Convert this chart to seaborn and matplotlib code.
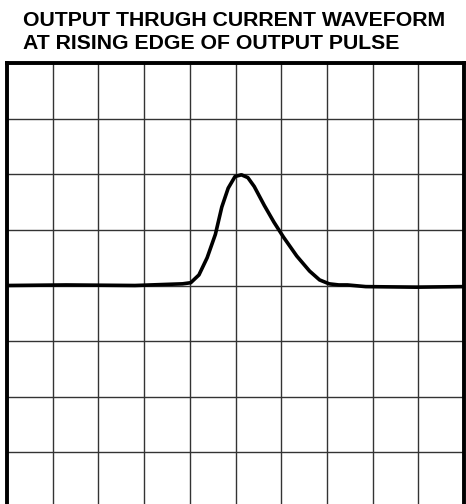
import numpy as np
import pandas as pd
import matplotlib
matplotlib.use("Agg")
import matplotlib.pyplot as plt
import seaborn as sns

# Datos (unidades = divisiones de la retícula)
time_div = [0.0, 1.3, 2.8, 3.84, 4.02, 4.20, 4.38, 4.56, 4.70, 4.84, 4.99,
            5.13, 5.27, 5.41, 5.63, 5.84, 6.05, 6.34, 6.62, 6.84, 7.05,
            7.26, 7.45, 7.85, 8.95, 10.0]
current_div = [0.0, 0.01, 0.0, 0.03, 0.05, 0.19, 0.50, 0.92, 1.41, 1.75, 1.96,
               1.99, 1.94, 1.78, 1.44, 1.14, 0.87, 0.53, 0.26, 0.10, 0.03,
               0.01, 0.01, -0.02, -0.03, -0.02]
title_lines = ["OUTPUT THRUGH CURRENT WAVEFORM", "AT RISING EDGE OF OUTPUT PULSE"]

df = pd.DataFrame({"t": time_div, "i": current_div})

sns.set_style("white")
plt.rcParams["font.family"] = ["Liberation Sans", "DejaVu Sans"]

fig = plt.figure(figsize=(4.66, 5.04), dpi=100)
ax = fig.add_axes([7 / 466, -4 / 504, 457 / 466, 445 / 504])

sns.lineplot(data=df, x="t", y="i", ax=ax, color="black", linewidth=2.6,
             sort=False)

ax.set_xlim(0, 10)
ax.set_ylim(-4, 4)
ax.set_xticks(np.arange(0, 11, 1))
ax.set_yticks(np.arange(-4, 5, 1))
ax.grid(True, color="#333333", linewidth=1.0)
ax.tick_params(length=0, labelbottom=False, labelleft=False)
ax.set_xlabel("")
ax.set_ylabel("")
for s in ax.spines.values():
    s.set_color("black")
    s.set_linewidth(2.8)

# Título en dos líneas
fig.text(23 / 466, 1 - 26 / 504, title_lines[0], fontsize=15.3,
         fontweight="bold", color="black", va="baseline", ha="left")
fig.text(23 / 466, 1 - 49 / 504, title_lines[1], fontsize=15.3,
         fontweight="bold", color="black", va="baseline", ha="left")

fig.savefig("out.png", dpi=100)
